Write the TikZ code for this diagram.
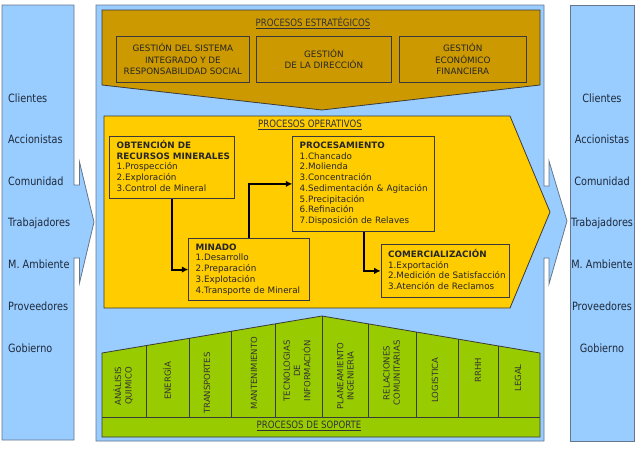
\documentclass[tikz,border=0pt]{standalone}
\usepackage{fontspec}
\setmainfont{DejaVu Sans}
\newfontfamily\narrowfont[FakeStretch=0.85]{DejaVu Sans}
\usetikzlibrary{arrows.meta}

\definecolor{panelblue}{HTML}{99CCFF}
\definecolor{panelline}{HTML}{66768C}
\definecolor{stratgold}{HTML}{CC9900}
\definecolor{opyellow}{HTML}{FFCC00}
\definecolor{supgreen}{HTML}{99CC00}
\definecolor{edgedark}{HTML}{3A3A3A}
\definecolor{lbltext}{HTML}{1E2A3A}

\newcommand\oplines[1]{\begin{tabular}{@{}l@{}}#1\end{tabular}}

\tikzset{
  panel/.style={draw=panelline, fill=panelblue, line width=0.8pt},
  block/.style={draw=edgedark, line width=0.8pt},
  stratbox/.style={draw=edgedark, line width=0.8pt, anchor=north west, align=center,
    inner sep=0pt, font=\fontsize{8.8}{11.3}\selectfont, text=black!85},
  opbox/.style={draw=edgedark, line width=0.8pt, anchor=north west, align=left,
    inner xsep=7pt, inner ysep=0pt, text=black!85,
    font=\fontsize{8.8}{10.7}\selectfont},
  suplbl/.style={rotate=90, align=center, inner sep=0pt,
    font=\fontsize{8.5}{10.3}\selectfont, text=black!80},
  stake/.style={inner sep=0pt, text=lbltext, font=\narrowfont\fontsize{11.4}{12}\selectfont},
  grouptitle/.style={inner sep=0pt, text=black!80, font=\narrowfont\fontsize{10.1}{12}\selectfont},
  flow/.style={line width=2pt, -{Latex[length=6.5pt,width=6.5pt]}},
}

\begin{document}
\begin{tikzpicture}[x=1pt, y=-1pt, font=\fontsize{8.8}{10.8}\selectfont]
\useasboundingbox (0,0) rectangle (635,448);

% stakeholders left and right
\draw[panel] (2,5) -- (74,5) -- (74,185) -- (79.5,185) -- (79.5,162) -- (94,222)
  -- (79.5,283) -- (79.5,258) -- (74,258) -- (74,440) -- (2,440) -- cycle;
\draw[panel] (570,5) rectangle (634,441);
\foreach \name [count=\i] in {Clientes,Accionistas,Comunidad,Trabajadores,M. Ambiente,Proveedores,Gobierno} {
  \node[stake, anchor=west] (in\i) at (8,{56.3+41.65*\i}) {\name};
  \node[stake] (out\i) at (602,{56.3+41.65*\i}) {\name};
}

% main panel
\draw[panel] (96,5) -- (544,5) -- (544,186) -- (549,186) -- (549,161) -- (567,221)
  -- (549,284) -- (549,258) -- (544,258) -- (544,441) -- (96,441) -- cycle;

% procesos estrategicos
\draw[block, fill=stratgold] (102,10) -- (540,10) -- (540,85) -- (322,110) -- (102,85) -- cycle;
\node[grouptitle] (esttitle) at (313,23) {\underline{PROCESOS ESTRATÉGICOS}};
\node[stratbox, minimum width=133pt, minimum height=45.7pt] (sgi) at (116,36)
  {GESTIÓN DEL SISTEMA\\INTEGRADO Y DE\\RESPONSABILIDAD SOCIAL};
\node[stratbox, minimum width=135pt, minimum height=45.7pt] (dir) at (256,36)
  {GESTIÓN\\DE LA DIRECCIÓN};
\node[stratbox, minimum width=126.7pt, minimum height=45.7pt] (eco) at (399,36)
  {GESTIÓN\\ECONÓMICO\\FINANCIERA};

% procesos operativos
\draw[block, fill=opyellow] (104,116) -- (510,116) -- (550,212) -- (510,308) -- (104,308) -- cycle;
\node[grouptitle] (optitle) at (310,125) {\underline{PROCESOS OPERATIVOS}};
\node[opbox, text width=110.7pt, minimum height=62pt] (obt) at (109.3,136)
  {\oplines{\textbf{OBTENCIÓN DE}\\\textbf{RECURSOS MINERALES}\\1.Prospección\\2.Exploración\\3.Control de Mineral}};
\node[opbox, text width=107pt, minimum height=61.7pt] (min) at (188.3,238.3)
  {\oplines{\textbf{MINADO}\\1.Desarrollo\\2.Preparación\\3.Explotación\\4.Transporte de Mineral}};
\node[opbox, text width=127.7pt, minimum height=95pt] (proc) at (292.3,136)
  {\oplines{\textbf{PROCESAMIENTO}\\1.Chancado\\2.Molienda\\3.Concentración\\4.Sedimentación \& Agitación\\5.Precipitación\\6.Refinación\\7.Disposición de Relaves}};
\node[opbox, text width=114.6pt, minimum height=52.4pt] (com) at (380.7,244.3)
  {\oplines{\textbf{COMERCIALIZACIÓN}\\1.Exportación\\2.Medición de Satisfacción\\3.Atención de Reclamos}};

\draw[flow] (obt.south) |- (min.west);
\draw[flow] (min.north) |- (proc.west);
\draw[flow] (proc.south) |- (com.west);

% procesos de soporte
\draw[block, fill=supgreen] (102,353) -- (322,316) -- (540,353) -- (540,437) -- (102,437) -- cycle;
\draw[block] (102,417) -- (540,417);
\foreach \x/\y in {146/345.6, 189/338.4, 231/331.3, 275/323.9, 322/316,
                   368/323.8, 416/332, 458/339.1, 498/345.9}
  \draw[block] (\x,\y) -- (\x,417);
\node[grouptitle] (soptitle) at (309,426) {\underline{PROCESOS DE SOPORTE}};

\node[suplbl] (s1) at (123,386) {ANÁLISIS\\QUIMICO};
\node[suplbl] (s2) at (167,381) {ENERGÍA};
\node[suplbl] (s3) at (207,383) {TRANSPORTES};
\node[suplbl] (s4) at (254,373) {MANTENIMIENTO};
\node[suplbl] (s5) at (297,371) {TECNOLOGIAS\\DE\\INFORMACIÓN};
\node[suplbl] (s6) at (345.5,376) {PLANEAMIENTO\\INGENIERIA};
\node[suplbl] (s7) at (391.7,373) {RELACIONES\\COMUNITARIAS};
\node[suplbl] (s8) at (435,380) {LOGISTICA};
\node[suplbl] (s9) at (478,370) {RRHH};
\node[suplbl] (s10) at (518,378) {LEGAL};

\end{tikzpicture}
\end{document}
